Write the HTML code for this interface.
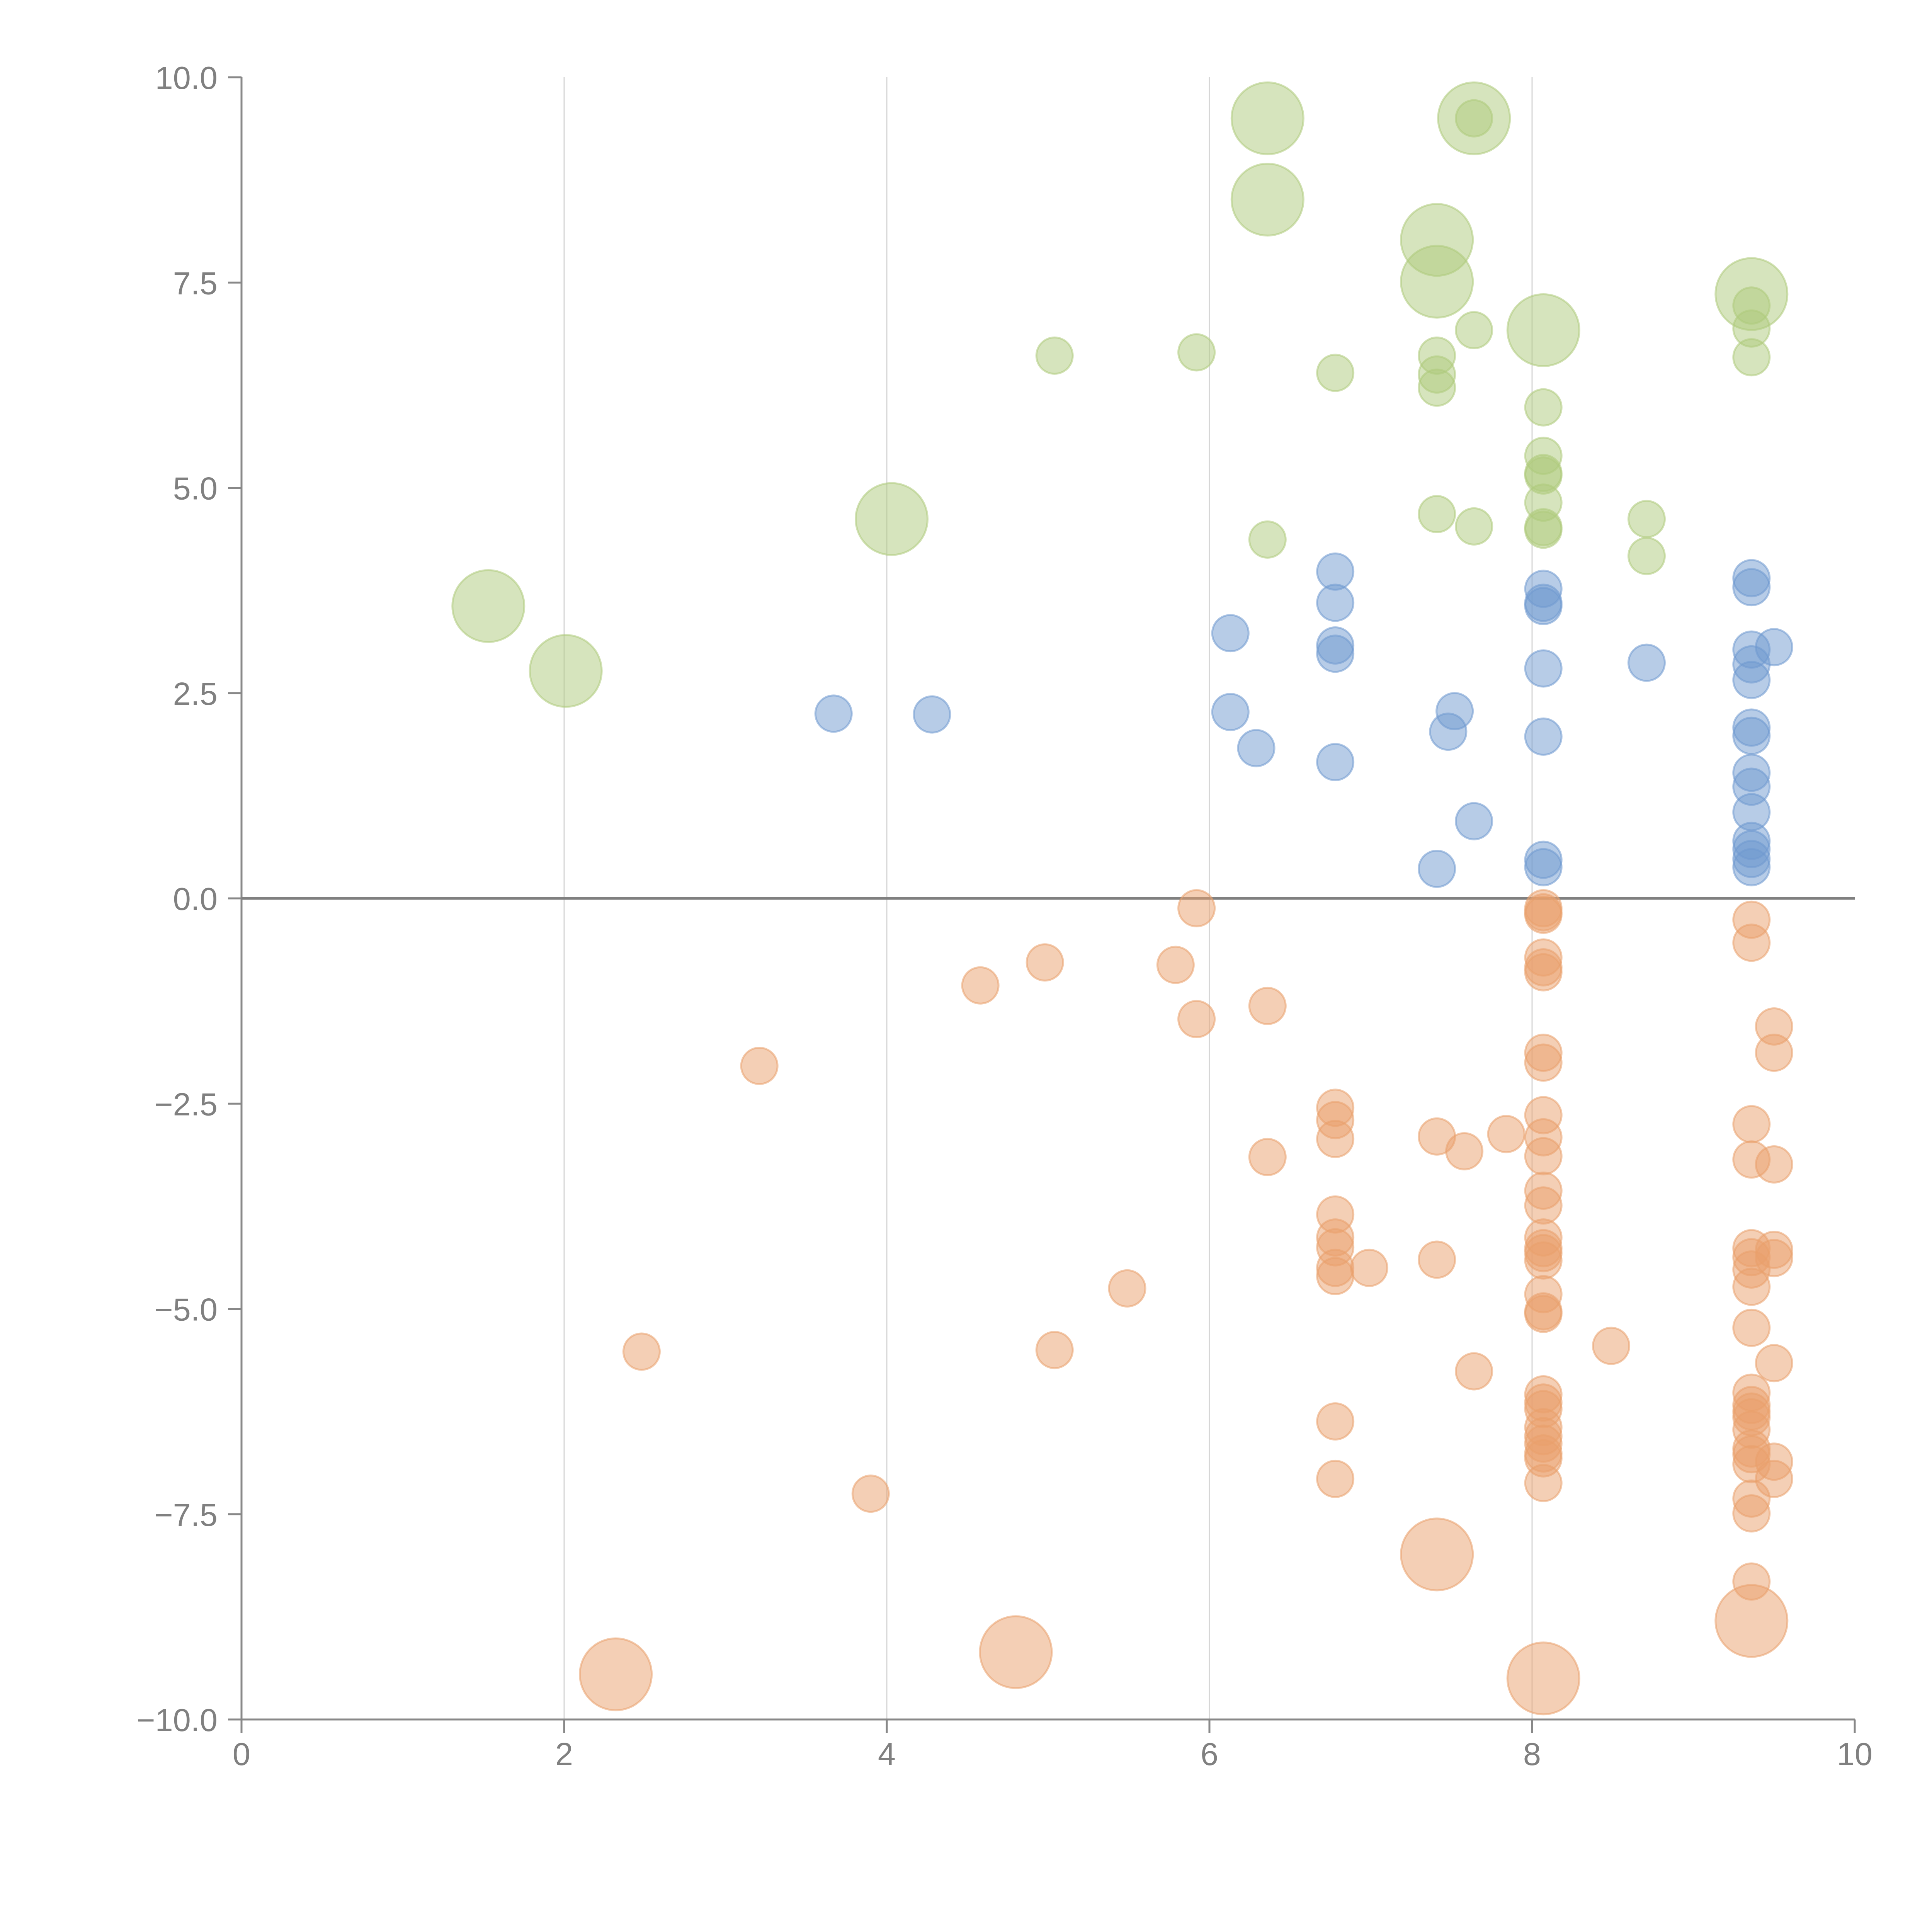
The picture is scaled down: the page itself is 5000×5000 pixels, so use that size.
<!DOCTYPE html>
<html><head><meta charset="utf-8"><style>
html,body{margin:0;padding:0;background:#fff;}
svg{display:block;}
text{font-family:"Liberation Sans",sans-serif;fill:#808080;font-size:83px;}
</style></head><body>
<svg id="chart" width="5000" height="5000" viewBox="0 0 5000 5000" xmlns="http://www.w3.org/2000/svg">
<g id="grid"></g>
<g id="axes"></g>
<g id="marks"></g>
</svg>
<script>
const xTicks=[0,2,4,6,8,10];
const yTicks=[-10,-7.5,-5,-2.5,0,2.5,5,7.5,10];
const yTickLabels=["\u221210.0","\u22127.5","\u22125.0","\u22122.5","0.0","2.5","5.0","7.5","10.0"];
// green series
const greenX=[6.36,7.64,6.36,7.41,7.41,9.36,8.07,4.03,1.53,2.01,7.64,5.04,5.92,6.78,7.41,7.41,7.41,7.64,9.36,9.36,9.36,8.07,8.07,8.07,8.07,8.07,8.07,8.07,7.41,7.64,6.36,8.71,8.71];
const greenY=[9.5,9.5,8.51,8.02,7.51,7.36,6.92,4.62,3.56,2.77,9.5,6.61,6.65,6.4,6.61,6.38,6.22,6.92,7.22,6.94,6.59,5.98,5.39,5.18,5.15,4.82,4.52,4.49,4.68,4.53,4.37,4.62,4.17];
const greenSize=[2,2,2,2,2,2,2,2,2,2,1,1,1,1,1,1,1,1,1,1,1,1,1,1,1,1,1,1,1,1,1,1,1];
// blue series
const blueX=[6.78,6.78,6.78,6.78,6.78,6.13,6.13,6.29,3.67,4.28,7.52,7.48,7.64,7.41,8.07,8.07,8.07,8.07,8.07,8.07,8.07,8.71,9.36,9.36,9.36,9.36,9.36,9.36,9.36,9.36,9.36,9.36,9.36,9.36,9.36,9.36,9.5];
const blueY=[3.98,3.6,3.08,2.98,1.66,3.23,2.27,1.83,2.25,2.24,2.28,2.03,0.94,0.36,3.77,3.6,3.56,2.8,1.97,0.47,0.38,2.87,3.9,3.79,3.03,2.85,2.66,2.08,1.98,1.53,1.36,1.05,0.7,0.6,0.48,0.38,3.06];
// orange series
const orangeX=[5.92,4.98,5.79,4.58,5.92,6.36,3.21,6.78,6.78,6.78,6.36,7.41,7.58,7.84,6.78,6.78,6.78,6.78,6.78,6.99,7.41,5.49,2.48,5.04,7.64,8.49,6.78,6.78,3.9,
8.07,8.07,8.07,8.07,8.07,8.07,8.07,8.07,8.07,8.07,8.07,8.07,8.07,8.07,8.07,8.07,8.07,8.07,8.07,8.07,8.07,8.07,8.07,8.07,8.07,8.07,8.07,8.07,8.07,
9.36,9.36,9.36,9.36,9.36,9.36,9.36,9.36,9.36,9.36,9.36,9.36,9.36,9.36,9.36,9.36,9.36,9.36,9.36,9.36,
9.5,9.5,9.5,9.5,9.5,9.5,9.5,9.5,
2.32,4.8,7.41,8.07,9.36];
const orangeY=[-0.12,-0.78,-0.81,-1.06,-1.47,-1.31,-2.04,-2.55,-2.7,-2.93,-3.15,-2.9,-3.08,-2.87,-3.85,-4.13,-4.25,-4.5,-4.6,-4.5,-4.4,-4.75,-5.52,-5.5,-5.76,-5.45,-6.37,-7.07,-7.25,
-0.12,-0.17,-0.2,-0.72,-0.84,-0.9,-1.88,-2.0,-2.64,-2.91,-3.14,-3.56,-3.74,-4.13,-4.26,-4.32,-4.41,-4.82,-5.03,-5.06,-6.04,-6.14,-6.22,-6.44,-6.55,-6.64,-6.76,-6.82,-7.12,
-0.26,-0.54,-2.75,-3.18,-4.26,-4.37,-4.52,-4.73,-5.23,-6.02,-6.17,-6.25,-6.32,-6.47,-6.7,-6.77,-6.89,-7.31,-7.49,-8.32,
-1.56,-1.88,-3.24,-4.28,-4.38,-5.66,-6.86,-7.07,
-9.45,-9.18,-7.99,-9.5,-8.8];
const orangeSize=orangeX.map((_,i)=>i>=orangeX.length-5?2:1);

const NS="http://www.w3.org/2000/svg";
const X0=625,X1=4800,Y0=4450,Y1=200;
const sx=v=>X0+(v-0)/(10-0)*(X1-X0);
const sy=v=>Y0-(v+10)/20*(Y0-Y1);
function mk(tag,attrs,parent){const e=document.createElementNS(NS,tag);for(const k in attrs)e.setAttribute(k,attrs[k]);parent.appendChild(e);return e;}
const grid=document.getElementById('grid'),axes=document.getElementById('axes'),marks=document.getElementById('marks');
xTicks.forEach(t=>{
  if(t>0&&t<10){const g=mk('line',{x1:sx(t),x2:sx(t),y1:Y1,y2:Y0,stroke:'#d6d6d6','stroke-width':3},grid);
  
  }
  const tk=mk('line',{x1:sx(t),x2:sx(t),y1:Y0,y2:Y0+35,stroke:'#888','stroke-width':5},axes);
  
  
  const tx=mk('text',{x:sx(t),y:Y0+118,'text-anchor':'middle'},axes);tx.textContent=t;
  
  
});
yTicks.forEach((t,i)=>{
  const tk=mk('line',{x1:X0-35,x2:X0,y1:sy(t),y2:sy(t),stroke:'#888','stroke-width':5},axes);
  
  
  const tx=mk('text',{x:X0-62,y:sy(t)+30,'text-anchor':'end'},axes);tx.textContent=yTickLabels[i];
  
  
});
const xa=mk('line',{x1:X0,x2:X1,y1:Y0,y2:Y0,stroke:'#888','stroke-width':5},axes);


const ya=mk('line',{x1:X0,x2:X0,y1:Y1,y2:Y0,stroke:'#888','stroke-width':5},axes);


const zl=mk('line',{x1:X0,x2:X1,y1:sy(0),y2:sy(0),stroke:'#808080','stroke-width':7},axes);


function draw(xs,ys,sizes,color,name){
  xs.forEach((x,i)=>{
    const r=sizes&&sizes[i]===2?93:47;
    const c=mk('circle',{cx:sx(x),cy:sy(ys[i]),r:r,fill:color,'fill-opacity':0.5,stroke:color,'stroke-opacity':0.55,'stroke-width':5},marks);
    
    
  });
}
draw(greenX,greenY,greenSize,'#aeca7c','green-bubble');
draw(blueX,blueY,null,'#7099d0','blue-bubble');
draw(orangeX,orangeY,orangeSize,'#e9a06c','orange-bubble');
</script>
</body></html>
